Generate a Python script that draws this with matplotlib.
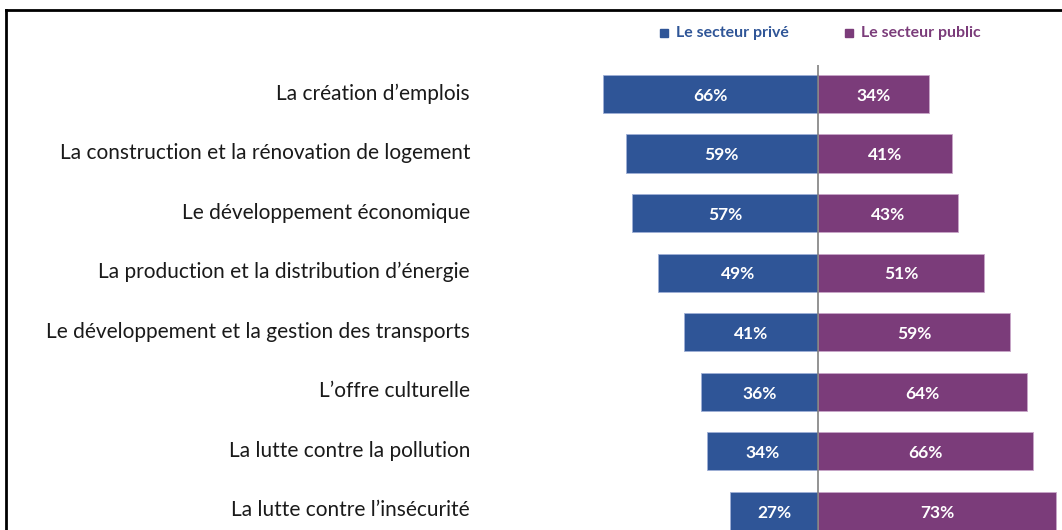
import matplotlib
matplotlib.use("Agg")
import matplotlib.pyplot as plt
from matplotlib.lines import Line2D
from matplotlib.patches import Rectangle
from matplotlib.transforms import blended_transform_factory

categories = [
    "La création d\u2019emplois",
    "La construction et la rénovation de logement",
    "Le développement économique",
    "La production et la distribution d\u2019énergie",
    "Le développement et la gestion des transports",
    "L\u2019offre culturelle",
    "La lutte contre la pollution",
    "La lutte contre l\u2019insécurité",
]
prive = [66, 59, 57, 49, 41, 36, 34, 27]
public = [34, 41, 43, 51, 59, 64, 66, 73]
series_names = ["Le secteur privé", "Le secteur public"]

BLUE = "#2F5597"
PURPLE = "#7B3C7A"
W, H = 1062, 530

plt.rcParams['font.family'] = ['Lato', 'DejaVu Sans']
fig = plt.figure(figsize=(W / 100, H / 100), dpi=100)

# axes in pixel placement
ax_l, ax_r, ax_t, ax_b = 600, 1062, 65, 530
ax = fig.add_axes([ax_l / W, 1 - ax_b / H, (ax_r - ax_l) / W, (ax_b - ax_t) / H])
scale = 3.26
ax.set_xlim(-(818 - ax_l) / scale, (ax_r - 818) / scale)
n = len(categories)
ax.set_ylim(n - 1 + 19 / 59.6, -29 / 59.6)
ax.axis('off')

ys = list(range(n))
ax.barh(ys, [-v for v in prive], height=0.64, color=BLUE, edgecolor='#9fb0d6', linewidth=0.6)
ax.barh(ys, public, height=0.64, color=PURPLE, edgecolor='#c9a6c8', linewidth=0.6)
ax.axvline(0, color='#808080', linewidth=1.2, zorder=3)

for y, p, q in zip(ys, prive, public):
    ax.text(-p / 2, y + 0.03, f"{p}%", ha='center', va='center', color='white',
            fontsize=12.5, fontweight='bold')
    ax.text(q / 2, y + 0.03, f"{q}%", ha='center', va='center', color='white',
            fontsize=12.5, fontweight='bold')

tr = blended_transform_factory(fig.transFigure, ax.transData)
for y, c in zip(ys, categories):
    ax.text(470 / W, y - 0.01, c, transform=tr, ha='right', va='center',
            fontsize=15, color='#1a1a1a', clip_on=False)

# legend
for x0, name, col in [(660, series_names[0], BLUE), (845, series_names[1], PURPLE)]:
    fig.patches.append(Rectangle((x0 / W, 1 - 37 / H), 8 / W, 8 / H,
                                 transform=fig.transFigure, color=col))
    fig.text((x0 + 16) / W, 1 - 33 / H, name, ha='left', va='center',
             fontsize=11.4, fontweight='bold', color=col)

# frame
fig.add_artist(Line2D([6 / W, 6 / W], [0, 1 - 10 / H], transform=fig.transFigure,
                      color='black', linewidth=2))
fig.add_artist(Line2D([6 / W, 1], [1 - 10 / H, 1 - 10 / H], transform=fig.transFigure,
                      color='black', linewidth=2))

fig.savefig("out.png", dpi=100)
